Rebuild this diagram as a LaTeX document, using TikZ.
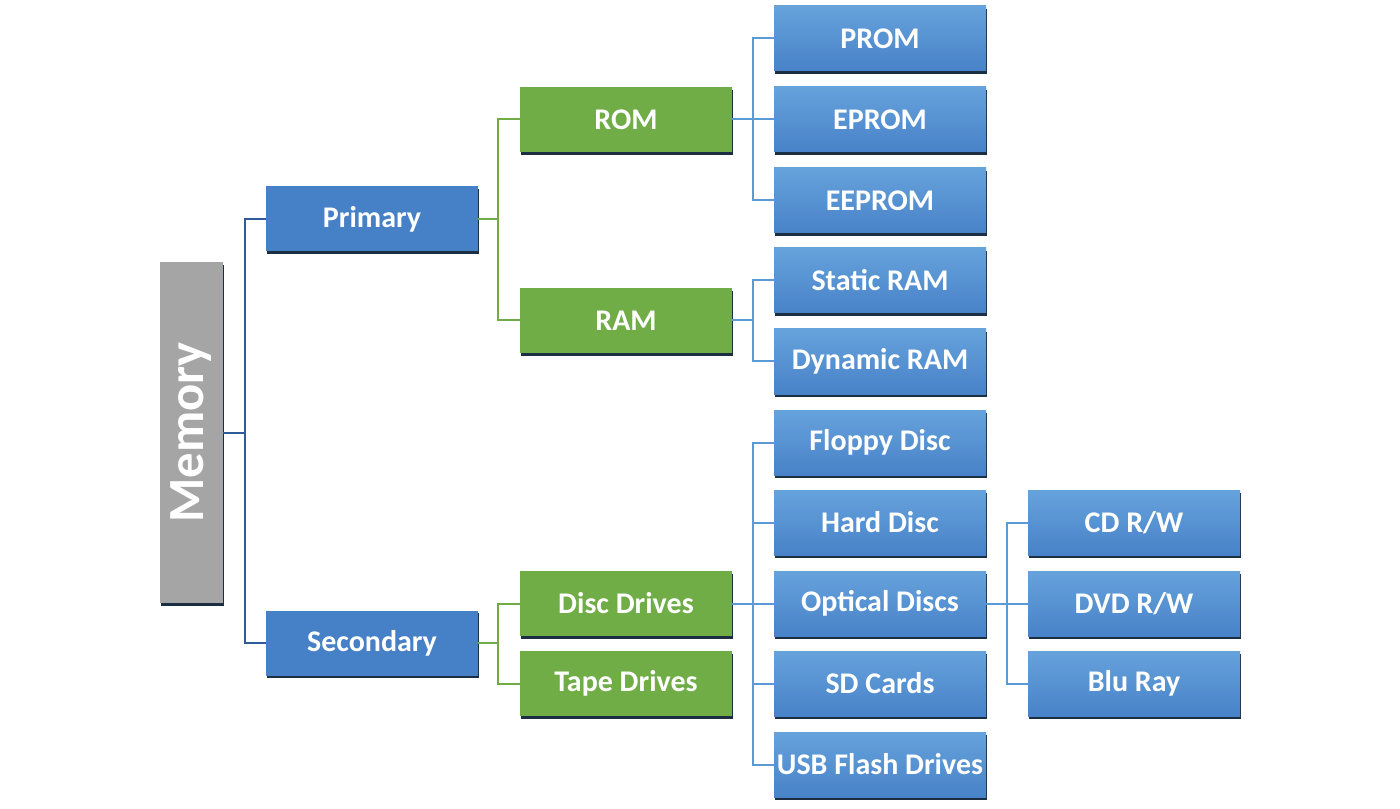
\documentclass[tikz,border=0pt]{standalone}
\usepackage{fontspec}
\setmainfont{Carlito}
\usetikzlibrary{shadows}
\definecolor{memgray}{HTML}{A5A5A5}
\definecolor{midblue}{HTML}{4680C6}
\definecolor{ltblueT}{HTML}{66A2DC}
\definecolor{ltblueB}{HTML}{4882C8}
\definecolor{grn}{HTML}{70AD47}
\definecolor{shadowc}{HTML}{1C2E42}
\definecolor{lineDark}{HTML}{2F5C99}
\definecolor{lineLt}{HTML}{5B9BD5}
\tikzset{
  base/.style={minimum width=159pt, minimum height=48.75pt, inner sep=0pt,
    text=white, font=\fontsize{22.5}{27}\selectfont\bfseries,
    drop shadow={shadow xshift=0.6pt, shadow yshift=-2.2pt, fill=shadowc, opacity=1}},
  lvlA/.style={base, fill=midblue},
  lvlB/.style={base, fill=grn},
  lvlC/.style={base, top color=ltblueT, bottom color=ltblueB},
  memstyle/.style={minimum width=47.25pt, minimum height=255.75pt, inner sep=0pt,
    fill=memgray, text=white, font=\fontsize{38}{42}\selectfont\bfseries,
    drop shadow={shadow xshift=0.6pt, shadow yshift=-2.2pt, fill=shadowc, opacity=1}},
  conn/.style={line width=1.5pt},
}
\begin{document}
\begin{tikzpicture}[x=0.75pt, y=-0.75pt]
\useasboundingbox (0,0) rectangle (1400,809);
% connectors first
\coordinate (dummy) at (0,0);
% nodes
\node[memstyle] (mem) at (191.5,432.5) {\rotatebox{90}{Memory}};
\node[lvlA] (pri) at (372,219) {Primary};
\node[lvlA] (sec) at (372,643) {Secondary};
\node[lvlB] (rom) at (626,119.5) {ROM};
\node[lvlB] (ram) at (626,320.5) {RAM};
\node[lvlB] (disc) at (626,603.5) {Disc Drives};
\node[lvlB] (tape) at (626,683.5) {Tape Drives};
\node[lvlC] (prom) at (880,38.5) {PROM};
\node[lvlC] (eprom) at (880,119.5) {EPROM};
\node[lvlC] (eeprom) at (880,200.5) {EEPROM};
\node[lvlC] (sram) at (880,280.5) {Static RAM};
\node[lvlC] (dram) at (880,361.5) {Dynamic RAM};
\node[lvlC] (floppy) at (880,442.5) {Floppy Disc};
\node[lvlC] (hard) at (880,522.5) {Hard Disc};
\node[lvlC] (optical) at (880,603.5) {Optical Discs};
\node[lvlC] (sd) at (880,683.5) {SD Cards};
\node[lvlC] (usb) at (880,764.5) {USB Flash Drives};
\node[lvlC] (cd) at (1134,522.5) {CD R/W};
\node[lvlC] (dvd) at (1134,603.5) {DVD R/W};
\node[lvlC] (blu) at (1134,683.5) {Blu Ray};
% connectors
\begin{scope}[on background layer/.style={}]
\draw[conn, lineDark] (mem.east) -- ++(22,0) |- (pri.west);
\draw[conn, lineDark] (mem.east) -- ++(22,0) |- (sec.west);
\draw[conn, grn] (pri.east) -- ++(20,0) |- (rom.west);
\draw[conn, grn] (pri.east) -- ++(20,0) |- (ram.west);
\draw[conn, grn] (sec.east) -- ++(20,0) |- (disc.west);
\draw[conn, grn] (sec.east) -- ++(20,0) |- (tape.west);
\foreach \c in {prom,eprom,eeprom}{\draw[conn, lineLt] (rom.east) -- ++(21,0) |- (\c.west);}
\foreach \c in {sram,dram}{\draw[conn, lineLt] (ram.east) -- ++(21,0) |- (\c.west);}
\foreach \c in {floppy,hard,optical,sd,usb}{\draw[conn, lineLt] (disc.east) -- ++(21,0) |- (\c.west);}
\foreach \c in {cd,dvd,blu}{\draw[conn, lineLt] (optical.east) -- ++(21,0) |- (\c.west);}
\end{scope}
\end{tikzpicture}
\end{document}
